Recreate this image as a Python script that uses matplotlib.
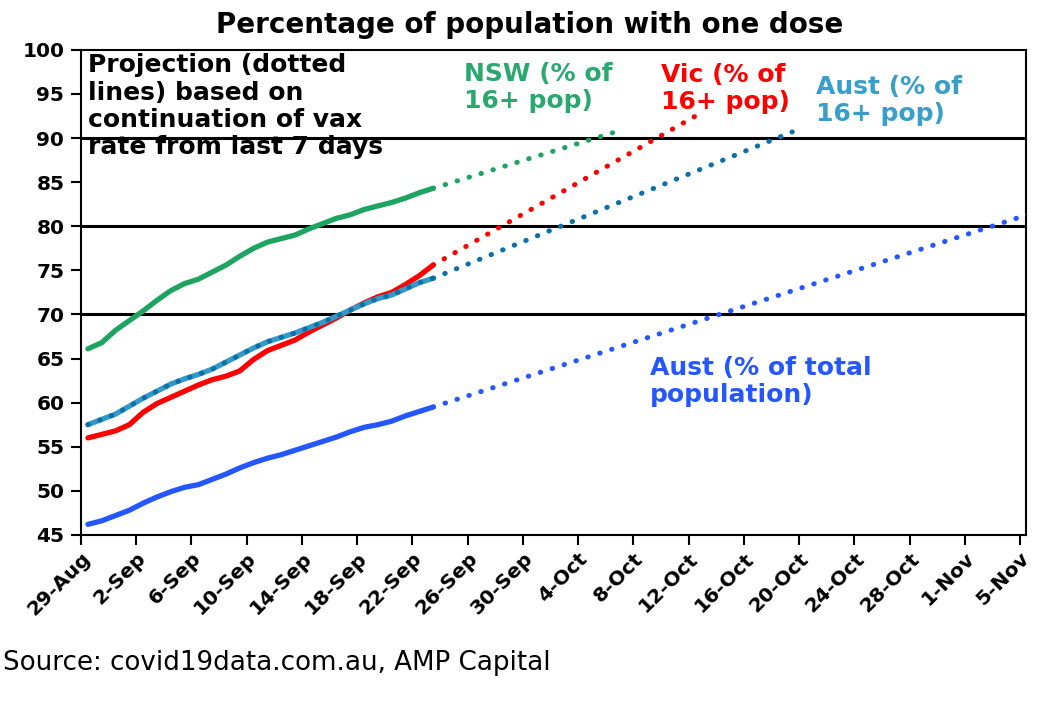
import matplotlib.pyplot as plt
import pandas as pd

plt.rcParams['font.family'] = ['DejaVu Sans']

# daily actuals, 29-Aug to 23-Sep
start = pd.Timestamp("2021-08-29")
nsw = [66.1, 66.8, 68.2, 69.3, 70.4, 71.6, 72.7, 73.5, 74.0, 74.8, 75.6, 76.6, 77.5,
       78.2, 78.6, 79.0, 79.7, 80.3, 80.9, 81.3, 81.9, 82.3, 82.7, 83.2, 83.8, 84.3]
vic = [56.0, 56.4, 56.8, 57.5, 58.9, 59.9, 60.6, 61.3, 62.0, 62.6, 63.0, 63.6, 64.9,
       65.9, 66.5, 67.1, 68.0, 68.8, 69.6, 70.5, 71.3, 72.0, 72.5, 73.4, 74.4, 75.6]
aus16 = [57.5, 58.1, 58.7, 59.6, 60.5, 61.3, 62.1, 62.7, 63.2, 63.8, 64.6, 65.4, 66.2,
         66.9, 67.4, 67.9, 68.5, 69.1, 69.8, 70.5, 71.2, 71.8, 72.2, 72.9, 73.6, 74.1]
aus_total = [46.2, 46.6, 47.2, 47.8, 48.6, 49.3, 49.9, 50.4, 50.7, 51.3, 51.9, 52.6, 53.2,
             53.7, 54.1, 54.6, 55.1, 55.6, 56.1, 56.7, 57.2, 57.5, 57.9, 58.5, 59.0, 59.5]

# projection end points (dotted lines start at the last actual value)
proj_end_dates = ["2021-10-06", "2021-10-12", "2021-10-19", "2021-11-07"]
proj_end_values = [90.6, 92.5, 90.7, 82.3]

thresholds = [70, 80, 90]
tick_dates = pd.date_range("2021-08-29", "2021-11-05", freq="4D")

green = "#1EA461"
red = "#FF0000"
teal = "#3399C6"
teal_dot = "#0B6FAA"
blue = "#2457FF"


def pos(d):
    # Excel puts each day's point half a day right of its tick
    return (pd.Timestamp(d) - start).days + 0.5


days = [pos(start + pd.Timedelta(days=i)) for i in range(len(nsw))]

fig = plt.figure(figsize=(10.59, 7.02), dpi=100)
ax = fig.add_axes([0.0765, 0.238, 0.892, 0.691])

for y in thresholds:
    ax.axhline(y, color="black", lw=2.2, zorder=1)

dot = dict(lw=3.6, linestyle=(0, (0.1, 2.4)), dash_capstyle="round", zorder=3)
series = [(nsw, green, green), (vic, red, red), (aus16, teal, teal_dot), (aus_total, blue, blue)]
for (vals, col, dcol), end_d, end_v in zip(series, proj_end_dates, proj_end_values):
    ax.plot(days, vals, color=col, lw=3.8, solid_capstyle="round", zorder=2)
    ax.plot([days[-1], pos(end_d)], [vals[-1], end_v], color=dcol, **dot)

# Aust 16+ line carries the dotted trend over the actuals as well
ax.plot(days, aus16, color=teal_dot, **dot)

ax.set_xlim(0, 68.4)
ax.set_ylim(45, 100)
ax.set_yticks(range(45, 101, 5))
ax.set_xticks([pos(d) - 0.5 for d in tick_dates])
ax.set_xticklabels([f"{d.day}-{d.strftime('%b')}" for d in tick_dates],
                   rotation=45, ha="right", rotation_mode="anchor")
ax.tick_params(axis="both", direction="out", length=7, width=1.5, labelsize=14.5)
ax.tick_params(axis="y", pad=5)
ax.tick_params(axis="x", pad=3)
for lab in ax.get_xticklabels() + ax.get_yticklabels():
    lab.set_fontweight("bold")
for s in ax.spines.values():
    s.set_linewidth(1.5)

lbl = dict(fontsize=18, fontweight="bold", va="top", ha="left", linespacing=1.17)
ax.text(0.5, 99.6, "Projection (dotted\nlines) based on\ncontinuation of vax\nrate from last 7 days",
        **lbl)
ax.text(27.7, 98.6, "NSW (% of\n16+ pop)", color="#2BA870", **lbl)
ax.text(42.0, 98.5, "Vic (% of\n16+ pop)", color=red, **lbl)
ax.text(53.2, 97.2, "Aust (% of\n16+ pop)", color="#379FCA", **lbl)
ax.text(41.2, 65.3, "Aust (% of total\npopulation)", color=blue, **lbl)

fig.text(0.5, 0.985, "Percentage of population with one dose", ha="center", va="top",
         fontsize=20, fontweight="bold")
fig.text(0.003, 0.055, "Source: covid19data.com.au, AMP Capital", ha="left", va="center",
         fontsize=18.8)

fig.savefig("out.png", dpi=100)
